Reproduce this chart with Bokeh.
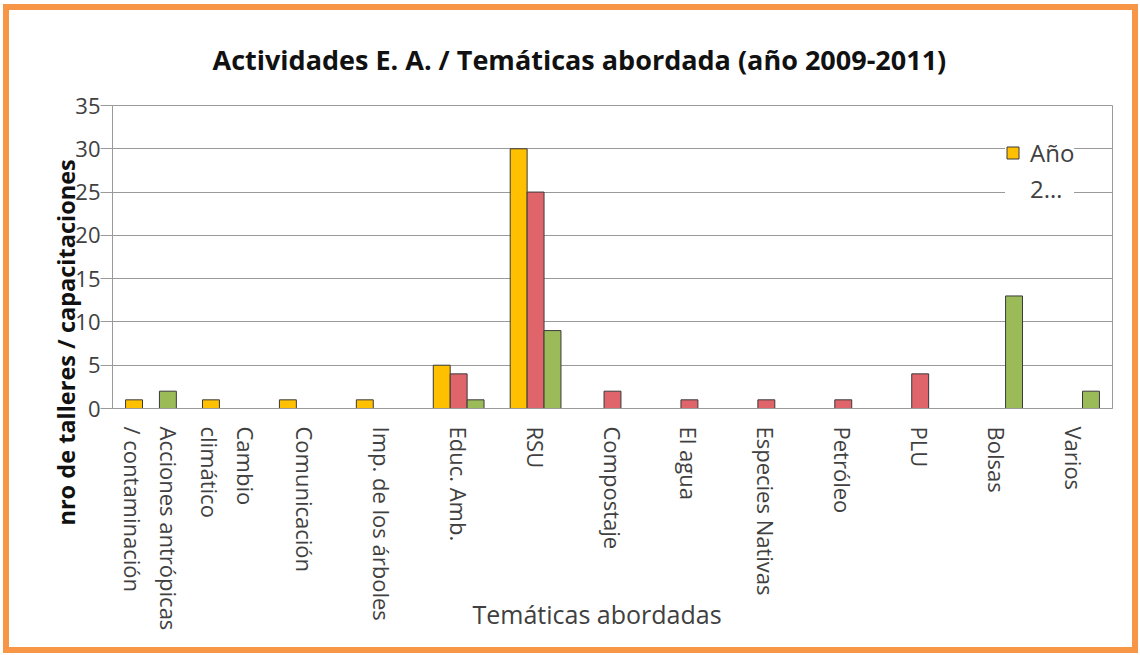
import math
from bokeh.plotting import figure
from bokeh.models import (ColumnDataSource, FactorRange, FixedTicker, Title,
                          Legend, LegendItem, InlineStyleSheet)
from bokeh.transform import dodge
from bokeh.embed import file_html
from bokeh.resources import INLINE

# ---- data ----
categories = ["Acciones antrópicas\n/ contaminación", "Cambio\nclimático", "Comunicación",
              "Imp. de los árboles", "Educ. Amb.", "RSU", "Compostaje", "El agua",
              "Especies Nativas", "Petróleo", "PLU", "Bolsas", "Varios"]
series_names = ["Año 2009", "Año 2010", "Año 2011"]
y2009 = [1, 1, 1, 1, 5, 30, 0, 0, 0, 0, 0, 0, 0]
y2010 = [0, 0, 0, 0, 4, 25, 2, 1, 1, 1, 4, 0, 0]
y2011 = [2, 0, 0, 0, 1, 9, 0, 0, 0, 0, 0, 13, 2]
y_ticks = [0, 5, 10, 15, 20, 25, 30, 35]
legend_lines = ["Año", "2…"]

colors = ["#FFC000", "#E0656B", "#9BBB59"]
FONT = "Open Sans"
GRID = "#9a9a9a"

p = figure(width=1140, height=655, x_range=FactorRange(*categories, range_padding=0),
           y_range=(0, 35), output_backend="svg", toolbar_location=None,
           min_border_left=112, min_border_right=28, min_border_top=105,
           min_border_bottom=247)
p.x_range.range_padding = 0

offsets = [-0.22, 0.0, 0.22]
renderers = []
for vals, col, off, name in zip([y2009, y2010, y2011], colors, offsets, series_names):
    cats = [c for c, v in zip(categories, vals) if v > 0]
    vs = [v for v in vals if v > 0]
    src = ColumnDataSource(dict(cat=cats, val=vs))
    r = p.vbar(x=dodge("cat", off, range=p.x_range), top="val", width=0.22, source=src,
               fill_color=col, line_color="#3a3a3a", line_width=1)
    renderers.append(r)

# invisible renderer for the second legend line
blank = p.vbar(x="cat", top="val", width=0.22,
               source=ColumnDataSource(dict(cat=[], val=[])),
               fill_alpha=0, line_alpha=0)

# axes
p.yaxis.ticker = FixedTicker(ticks=y_ticks)
p.yaxis.axis_line_color = GRID
p.yaxis.major_tick_line_color = GRID
p.yaxis.major_tick_out = 12
p.yaxis.major_tick_in = 0
p.yaxis.minor_tick_line_color = None
p.yaxis.major_label_text_font = FONT
p.yaxis.major_label_text_font_size = "22px"
p.yaxis.major_label_text_color = "#404040"
p.yaxis.major_label_standoff = 0

p.xaxis.axis_line_color = GRID
p.xaxis.major_tick_line_color = None
p.xaxis.minor_tick_line_color = None
p.xaxis.major_label_orientation = -math.pi / 2
p.xaxis.major_label_text_font = FONT
p.xaxis.major_label_text_font_size = "22px"
p.xaxis.major_label_text_color = "#404040"
p.xaxis.major_label_standoff = 12

p.xgrid.grid_line_color = None
p.ygrid.grid_line_color = GRID
p.ygrid.grid_line_width = 1.2
p.ygrid.ticker = FixedTicker(ticks=y_ticks)
p.outline_line_color = GRID
p.background_fill_color = "white"
p.border_fill_color = "white"

# titles
p.title = Title(text="Actividades E. A. / Temáticas abordada (año 2009-2011)",
                align="left", offset=100, standoff=56, text_font=FONT,
                text_font_size="27px", text_font_style="bold", text_color="#111111")
p.add_layout(Title(text="nro de talleres / capacitaciones", align="left", offset=-117,
                   standoff=-18, text_font=FONT, text_font_size="23.5px",
                   text_font_style="bold", text_color="#111111"), "left")
p.add_layout(Title(text="Temáticas abordadas", align="left", offset=360,
                   vertical_align="top", standoff=-74, text_font=FONT,
                   text_font_size="25px", text_font_style="normal",
                   text_color="#404040"), "below")

legend = Legend(items=[LegendItem(label=legend_lines[0], renderers=[renderers[0]]),
                       LegendItem(label=legend_lines[1], renderers=[blank])],
                location=(893, 203), padding=7, spacing=3,
                label_height=33, label_standoff=10,
                label_text_font=FONT, label_text_font_size="24px",
                label_text_color="#404040", glyph_width=15, glyph_height=15,
                border_line_color=None, background_fill_color="white",
                background_fill_alpha=1.0)
p.add_layout(legend)

p.stylesheets = [InlineStyleSheet(css="""
:host { position: relative; }
:host::after {
  content: "";
  position: absolute;
  left: 3px; top: 4px; right: 2px; bottom: 2px;
  border: 6px solid #F79646;
  pointer-events: none;
  z-index: 100;
}
""")]

open("out.html", "w").write(file_html(p, INLINE))
